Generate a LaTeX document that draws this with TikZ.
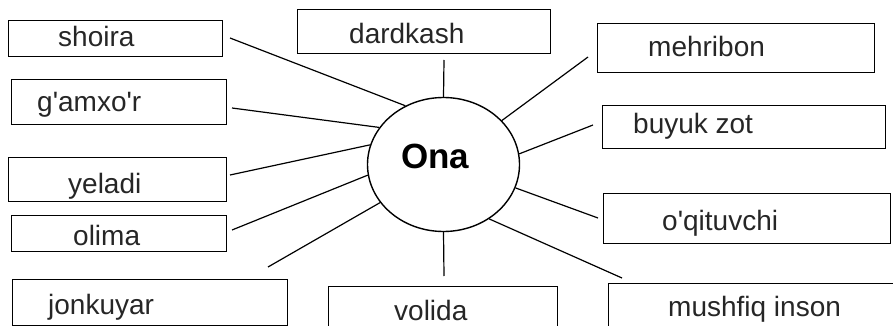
\documentclass[tikz,border=0pt]{standalone}
\usepackage{fontspec}
\setmainfont{Liberation Sans}
\usetikzlibrary{shapes.geometric}
\begin{document}
\begin{tikzpicture}[x=1pt,y=-1pt,
  box/.style={draw=black,line width=1.4pt,rectangle,inner sep=0pt,anchor=north west},
  lbl/.style={anchor=base west,inner sep=0pt,font=\fontsize{28}{30}\selectfont,text=black!85},
  conn/.style={draw=black,line width=1.2pt}]
\useasboundingbox (0,0) rectangle (893,326);
% boxes
\node[box,minimum width=214pt,minimum height=36pt] (shoira) at (8,20) {};
\node[box,minimum width=215pt,minimum height=45pt] (gamxor) at (11,79) {};
\node[box,minimum width=218pt,minimum height=44pt] (yeladi) at (8,157) {};
\node[box,minimum width=215pt,minimum height=36pt] (olima) at (11,215) {};
\node[box,minimum width=275pt,minimum height=46pt] (jonkuyar) at (12,279) {};
\node[box,minimum width=253pt,minimum height=44pt] (dardkash) at (297,9) {};
\node[box,minimum width=229pt,minimum height=54pt] (volida) at (328,286) {};
\node[box,minimum width=277pt,minimum height=49pt] (mehribon) at (597,23) {};
\node[box,minimum width=283pt,minimum height=43pt] (buyuk) at (602,105) {};
\node[box,minimum width=287pt,minimum height=50pt] (oqit) at (603,193) {};
\node[box,minimum width=292pt,minimum height=57pt] (mushfiq) at (608,283) {};
% labels
\node[lbl] (tshoira) at (58,47) {shoira};
\node[lbl] (tgamxor) at (37,112) {g\textquotesingle amxo\textquotesingle r};
\node[lbl] (tyeladi) at (68,193) {yeladi};
\node[lbl] (tolima) at (73,245) {olima};
\node[lbl] (tjonkuyar) at (48,314) {jonkuyar};
\node[lbl] (tdardkash) at (349,44) {dardkash};
\node[lbl] (tvolida) at (394,320) {volida};
\node[lbl] (tmehribon) at (648,57) {mehribon};
\node[lbl] (tbuyuk) at (633,133) {buyuk zot};
\node[lbl] (toqit) at (662,230) {o\textquotesingle qituvchi};
\node[lbl] (tmushfiq) at (668,316) {mushfiq inson};
% centre
\node[ellipse,draw=black,line width=1.4pt,minimum width=152pt,minimum height=134pt,inner sep=0pt] (ona) at (443.5,164.5) {};
\node[anchor=base west,inner sep=0pt,font=\fontsize{35}{38}\selectfont\bfseries] (tona) at (401,168) {Ona};
% free ends
\coordinate (cshoira) at (230,38);
\coordinate (cgamxor) at (232,108);
\coordinate (cyeladi) at (230,175);
\coordinate (colima) at (232,230);
\coordinate (cjonkuyar) at (268,267);
\coordinate (cdardkash) at (444,60);
\coordinate (cvolida) at (444,276);
\coordinate (cmehribon) at (588,57);
\coordinate (cbuyuk) at (593,125);
\coordinate (coqit) at (598,218);
\coordinate (cmushfiq) at (622,278);
% connectors
\draw[conn] (cshoira) -- (ona.123);
\draw[conn] (cgamxor) -- (ona.150);
\draw[conn] (cyeladi) -- (ona.165);
\draw[conn] (colima) -- (ona.188);
\draw[conn] (cjonkuyar) -- (ona.211);
\draw[conn] (cdardkash) -- (ona.90);
\draw[conn] (cvolida) -- (ona.270);
\draw[conn] (cmehribon) -- (ona.37);
\draw[conn] (cbuyuk) -- (ona.8);
\draw[conn] (coqit) -- (ona.342);
\draw[conn] (cmushfiq) -- (ona.310);
\end{tikzpicture}
\end{document}
